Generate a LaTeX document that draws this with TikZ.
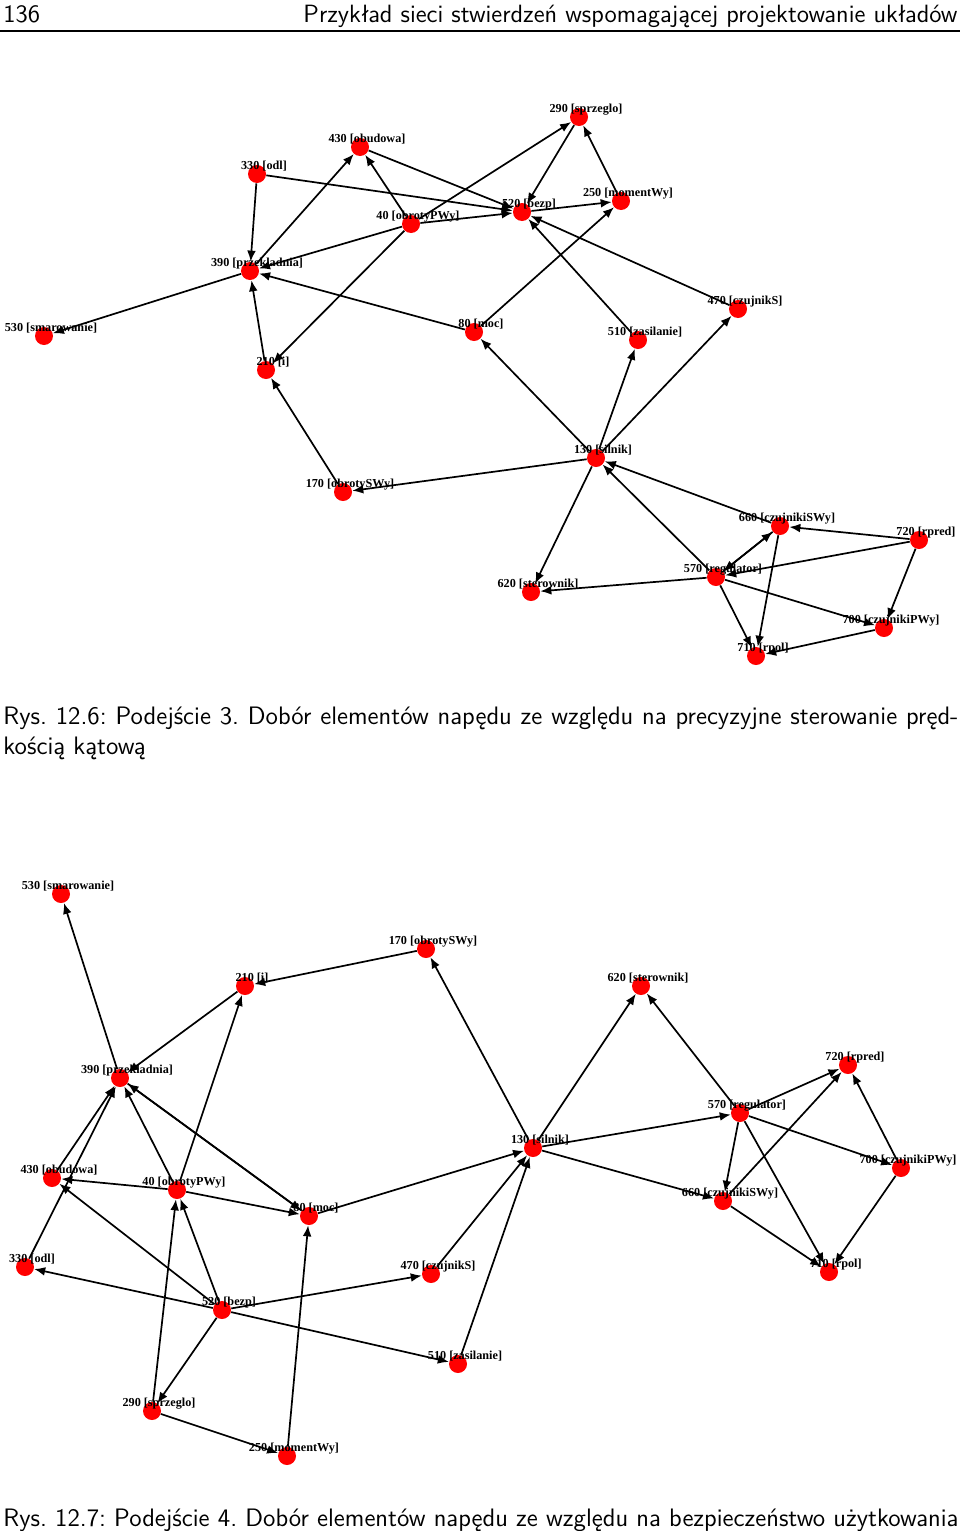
\documentclass[tikz,border=0pt]{standalone}
\usepackage{fontspec}
\newfontfamily\lblfont{Liberation Serif}
\usetikzlibrary{arrows.meta}
\tikzset{
  vtx/.style={circle,fill=red,draw=none,minimum size=9pt,inner sep=0pt},
  lbl/.style={font=\lblfont\bfseries\fontsize{6.1}{7}\selectfont,anchor=base,inner sep=0pt},
  edge/.style={draw=black,line width=0.85pt,-{Latex[length=5.5pt,width=4.4pt]}},
  txt/.style={font=\sffamily\fontsize{12.5}{15}\selectfont\frenchspacing,inner sep=0pt},
  captxt/.style={font=\sffamily\fontsize{12.62}{15}\selectfont\frenchspacing,inner sep=0pt},
}
\begin{document}
\begin{tikzpicture}[x=0.5pt,y=-0.5pt]
\useasboundingbox (0,0) rectangle (960,1531);
% header
\node[txt,anchor=base west] (pg) at (3,23) {136};
\node[txt,anchor=base east] (hd) at (958,23) {Przykład sieci stwierdzeń wspomagającej projektowanie układów};
\draw[line width=0.7pt] (0,31) -- (960,31);
% ---------- top graph ----------
\foreach \n/\x/\y in {a290/579/117,a430/360/147,a330/257/174,a250/621/201,a520/522/212,
  a40/411/224,a390/250/271,a470/738/309,a530/44/336,a80/474/332,a510/638/340,a210/266/370,
  a130/596/458,a170/343/492,a660/780/526,a720/919/540,a570/716/577,a620/531/592,
  a700/884/628,a710/756/656}
  \node[vtx] (\n) at (\x,\y) {};
\foreach \s/\d in {a330/a390,a390/a430,a40/a430,a40/a290,a40/a520,a40/a390,a40/a210,
  a330/a520,a430/a520,a290/a520,a250/a290,a520/a250,a80/a250,a510/a520,a470/a520,
  a130/a470,a130/a510,a130/a80,a130/a170,a170/a210,a210/a390,a80/a390,a390/a530,
  a130/a620,a660/a130,a570/a130,a570/a620,a570/a660,a660/a570,a720/a660,a720/a570,
  a720/a700,a570/a700,a570/a710,a660/a710,a700/a710}
  \draw[edge] (\s) -- (\d);
\foreach \n/\t in {a290/{290 [sprzeglo]},a430/{430 [obudowa]},a330/{330 [odl]},
  a250/{250 [momentWy]},a520/{520 [bezp]},a40/{40 [obrotyPWy]},a390/{390 [przekladnia]},
  a470/{470 [czujnikS]},a530/{530 [smarowanie]},a80/{80 [moc]},a510/{510 [zasilanie]},
  a210/{210 [i]},a130/{130 [silnik]},a170/{170 [obrotySWy]},a660/{660 [czujnikiSWy]},
  a720/{720 [rpred]},a570/{570 [regulator]},a620/{620 [sterownik]},
  a700/{700 [czujnikiPWy]},a710/{710 [rpol]}}
  \node[lbl] (\n l) at ([shift={(7,-5)}]\n.center) {\t};
% caption 1
\node[captxt,anchor=base west] (c1a) at (3,724)
  {\makebox[477.5pt][s]{Rys. 12.6: Podejście 3. Dobór elementów napędu ze względu na precyzyjne sterowanie pręd-}};
\node[captxt,anchor=base west] (c1b) at (3,754) {kością kątową};
% ---------- bottom graph ----------
\foreach \n/\x/\y in {b530/61/894,b170/426/949,b210/245/986,b620/641/986,b720/848/1065,
  b390/120/1078,b570/740/1113,b130/533/1148,b430/52/1178,b40/177/1190,b700/901/1168,
  b660/723/1201,b80/309/1216,b330/25/1267,b470/431/1274,b710/829/1272,b520/222/1310,
  b510/458/1364,b290/152/1411,b250/287/1456}
  \node[vtx] (\n) at (\x,\y) {};
\foreach \s/\d in {b390/b530,b210/b390,b170/b210,b130/b170,b330/b390,b430/b390,b40/b390,
  b80/b390,b390/b80,b40/b430,b520/b430,b40/b80,b80/b130,b250/b80,b290/b250,b290/b40,b520/b40,
  b520/b290,b520/b330,b520/b470,b520/b510,b40/b210,b130/b620,b570/b620,b130/b570,
  b130/b660,b470/b130,b510/b130,b570/b720,b660/b720,b700/b720,b570/b700,b570/b660,
  b570/b710,b660/b710,b700/b710}
  \draw[edge] (\s) -- (\d);
\foreach \n/\t in {b290/{290 [sprzeglo]},b430/{430 [obudowa]},b330/{330 [odl]},
  b250/{250 [momentWy]},b520/{520 [bezp]},b40/{40 [obrotyPWy]},b390/{390 [przekladnia]},
  b470/{470 [czujnikS]},b530/{530 [smarowanie]},b80/{80 [moc]},b510/{510 [zasilanie]},
  b210/{210 [i]},b130/{130 [silnik]},b170/{170 [obrotySWy]},b660/{660 [czujnikiSWy]},
  b720/{720 [rpred]},b570/{570 [regulator]},b620/{620 [sterownik]},
  b700/{700 [czujnikiPWy]},b710/{710 [rpol]}}
  \node[lbl] (\n l) at ([shift={(7,-5)}]\n.center) {\t};
% caption 2
\node[captxt,anchor=base west] (c2) at (3,1526)
  {Rys. 12.7: Podejście 4. Dobór elementów napędu ze względu na bezpieczeństwo użytkowania};
\end{tikzpicture}
\end{document}
